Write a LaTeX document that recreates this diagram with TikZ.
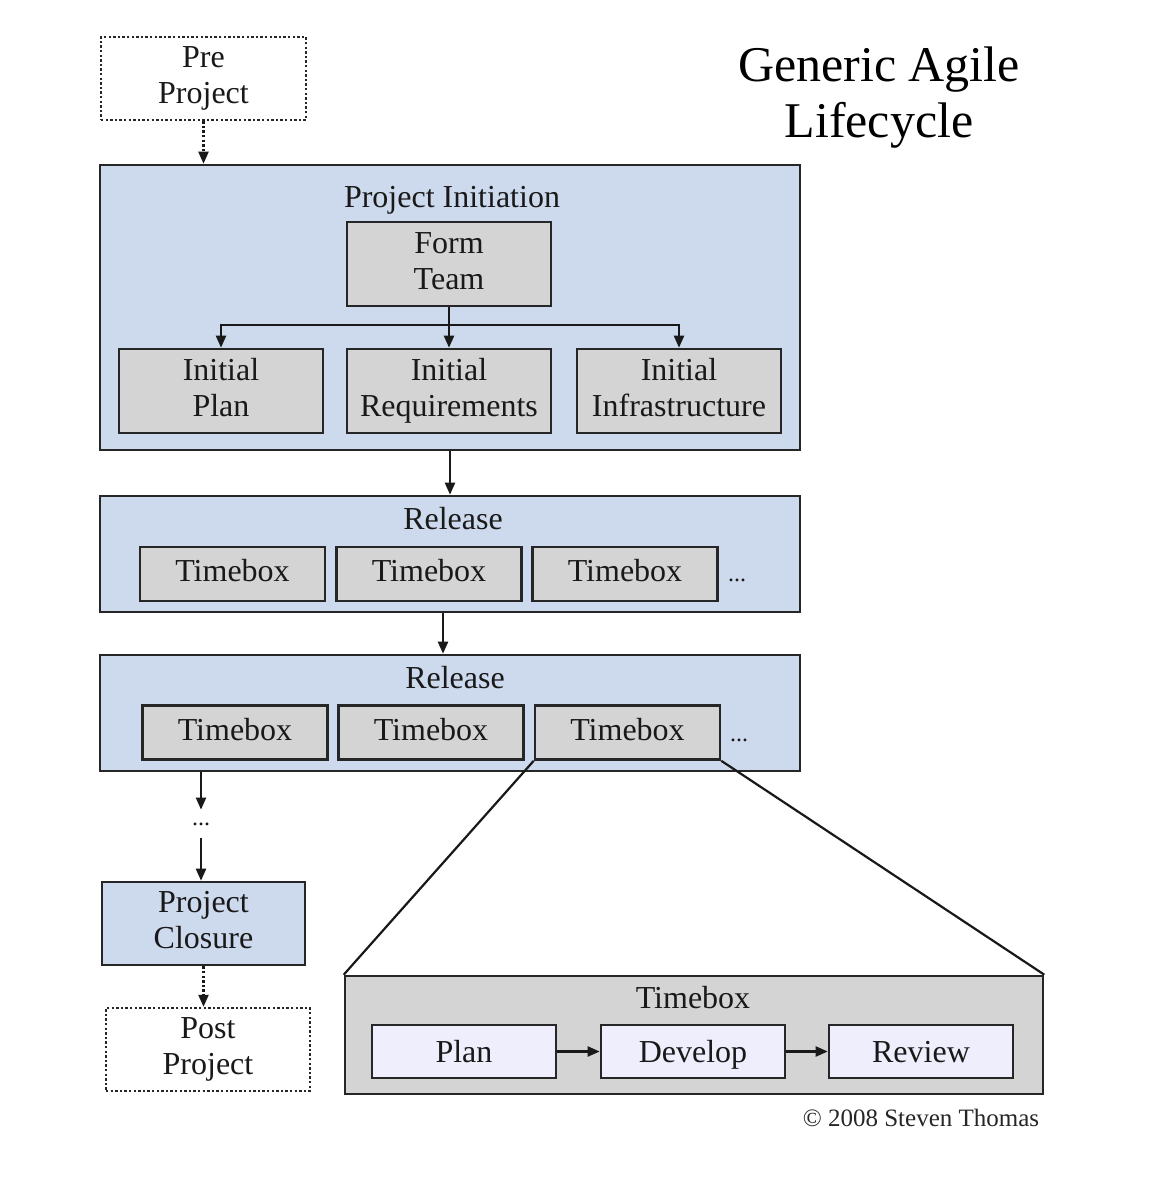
\documentclass[tikz,border=0pt]{standalone}
\usepackage{fontspec}
\setmainfont{Liberation Serif}
\usetikzlibrary{arrows.meta}
\definecolor{lblue}{RGB}{205,218,237}
\definecolor{lgray}{RGB}{212,212,212}
\definecolor{lav}{RGB}{238,238,252}
\newcommand\topstrut{\rule[-3.6pt]{0pt}{18.4pt}}
\newcommand\ostrut{\rule[-3.6pt]{0pt}{14.4pt}}
\newcommand\twoline[2]{\vbox{\baselineskip=18pt\halign{\hfil##\hfil\cr\ostrut #1\cr\ostrut #2\cr}}}
\let\mystrut\topstrut
\begin{document}
\begin{tikzpicture}[x=0.5pt,y=-0.5pt,
  oldstrut/.code={\let\mystrut\ostrut},
  txt/.style={font=\fontsize{16}{18}\selectfont, align=center, text=black!90,
    execute at begin node=\mystrut, execute at end node=\ostrut},
  bigbox/.style={draw=black!85, line width=1.3pt, fill=lblue, inner sep=0pt},
  gbox/.style={txt, draw=black!85, line width=1.3pt, fill=lgray, inner sep=0pt},
  tbox/.style={gbox, oldstrut},
  pbox/.style={txt, draw=black!85, line width=1.3pt, fill=lav, inner sep=0pt},
  dotbox/.style={txt, draw=black!85, line width=1.2pt, dash pattern=on 1.2pt off 1.1pt, fill=white, inner sep=0pt},
  dotstxt/.style={font=\fontsize{12}{14}\selectfont, text=black!90, inner sep=0pt},
  arr/.style={draw=black!90, line width=1.1pt, -{Triangle[length=6pt,width=5pt]}},
  dotarr/.style={arr, dash pattern=on 1.2pt off 1.1pt},
  zline/.style={draw=black!90, line width=1.1pt}
]
\useasboundingbox[fill=white] (0,0) rectangle (1170,1178);

% title
\node[font=\fontsize{25}{28}\selectfont, align=center] (title) at (879,98) {Generic Agile\\Lifecycle};

% pre project
\node[dotbox, minimum width=102.5pt, minimum height=41.5pt] (pre) at (203.5,78.5) {\twoline{Pre}{Project}};

% project initiation
\node[bigbox, minimum width=350pt, minimum height=142.5pt] (pi) at (450,307.5) {};
\node[txt] (pit) at (452,196) {Project Initiation};
\node[gbox, minimum width=102pt, minimum height=42pt] (ft) at (449,264) {\twoline{Form}{Team}};
\node[gbox, minimum width=102pt, minimum height=42pt] (ipl) at (221,391) {\twoline{Initial}{Plan}};
\node[gbox, minimum width=102pt, minimum height=42pt] (ire) at (449,391) {\twoline{Initial}{Requirements}};
\node[gbox, minimum width=102pt, minimum height=42pt] (iin) at (679,391) {\twoline{Initial}{Infrastructure}};
\coordinate (split) at (449,325);
\draw[arr] (ft.south) -- (ire.north);
\draw[arr] (split) -| (ipl.north);
\draw[arr] (split) -| (iin.north);

% release 1
\node[bigbox, minimum width=350pt, minimum height=58pt] (r1) at (450,554) {};
\node[txt] (r1t) at (453,518) {Release};
\node[tbox, minimum width=92.5pt, minimum height=27pt] (t11) at (232.5,574) {Timebox};
\node[tbox, minimum width=92.5pt, minimum height=27pt] (t12) at (429,574) {Timebox};
\node[tbox, minimum width=92.5pt, minimum height=27pt] (t13) at (625,574) {Timebox};
\node[dotstxt] (d1) at (737,580) {...};

% release 2
\node[bigbox, minimum width=350pt, minimum height=58pt] (r2) at (450,713) {};
\node[txt] (r2t) at (455,677) {Release};
\node[tbox, minimum width=92.5pt, minimum height=27pt] (t21) at (235,732.5) {Timebox};
\node[tbox, minimum width=92.5pt, minimum height=27pt] (t22) at (431,732.5) {Timebox};
\node[tbox, minimum width=92.5pt, minimum height=27pt] (t23) at (627.5,732.5) {Timebox};
\node[dotstxt] (d2) at (739,740) {...};

\draw[arr] (pi.south) -- (r1.north);
\draw[arr] ([xshift=-3.5pt]r1.south) -- ([xshift=-3.5pt]r2.north);

% continuation
\node[dotstxt, minimum height=14pt] (dots) at (201,824) {...};
\draw[arr] (r2.south -| dots.north) -- (dots.north);
\node[bigbox, txt, minimum width=101.5pt, minimum height=41.5pt] (pc) at (203.5,923.5) {\twoline{Project}{Closure}};
\draw[arr] (dots.south) -- (pc.north -| dots.south);
\node[dotbox, minimum width=102pt, minimum height=41.5pt] (post) at (208,1049.5) {\twoline{Post}{Project}};
\draw[dotarr] (pc.south) -- (pc.south |- post.north);
\draw[dotarr] (pre.south) -- (pre.south |- pi.north);

% expanded timebox
\node[gbox, minimum width=349pt, minimum height=59pt] (bt) at (694,1035) {};
\node[txt] (btt) at (693,997) {Timebox};
\node[pbox, minimum width=92pt, minimum height=26.5pt] (plan) at (464,1051.5) {Plan};
\node[pbox, minimum width=92pt, minimum height=26.5pt] (dev) at (693,1051.5) {Develop};
\node[pbox, minimum width=92pt, minimum height=26.5pt] (rev) at (921,1051.5) {Review};
\draw[arr] (plan.east) -- (dev.west);
\draw[arr] (dev.east) -- (rev.west);
\draw[zline] (t23.south west) -- (bt.north west);
\draw[zline] (t23.south east) -- (bt.north east);

% copyright
\node[font=\fontsize{12.5}{14}\selectfont, text=black!85] (copy) at (921,1118) {\textcopyright{} 2008 Steven Thomas};
\end{tikzpicture}
\end{document}
